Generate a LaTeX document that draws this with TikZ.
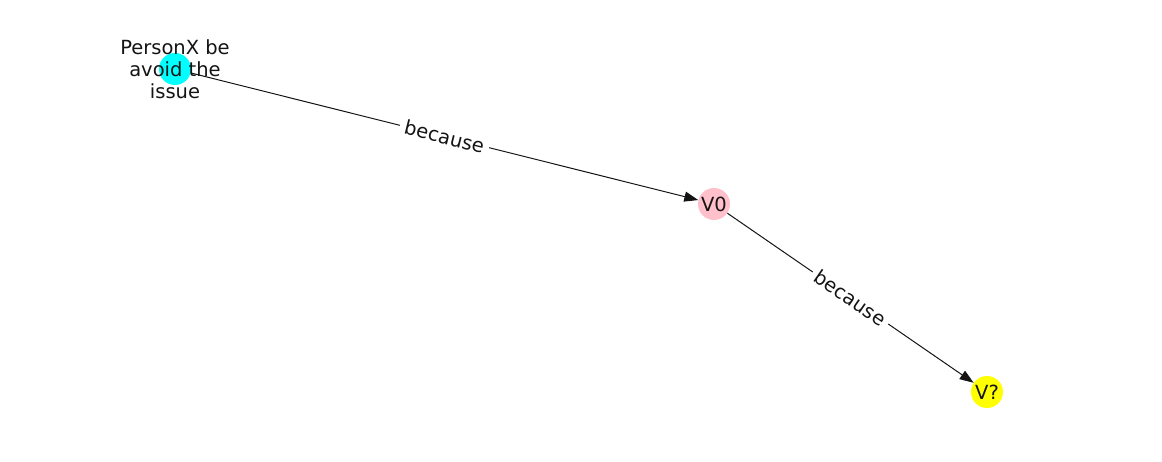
\documentclass[tikz,border=0pt]{standalone}
\usepackage{fontspec}
\setmainfont{DejaVu Sans}
\usepackage{tikz}
\usetikzlibrary{arrows.meta, positioning}
\definecolor{nodecyan}{RGB}{0,255,255}
\definecolor{nodepink}{RGB}{255,192,203}
\definecolor{nodeyellow}{RGB}{255,255,0}
\definecolor{inkgray}{RGB}{20,20,20}

\begin{document}
\begin{tikzpicture}[x=1pt, y=-1pt,
    vert/.style={circle, minimum size=32pt, inner sep=0pt, text=inkgray, font=\fontsize{19.5}{23}\selectfont},
    rel/.style={-{Triangle[length=14pt,width=10pt]}, line width=1pt, inkgray},
    rellabel/.style={fill=white, inner sep=5pt, sloped, midway, text=inkgray, font=\fontsize{19.5}{23}\selectfont}]
    \useasboundingbox (0,0) rectangle (1162,462);

    % Nodi
    \node[vert, fill=nodecyan] (ev) at (175,69) {};
    \node[vert, fill=nodepink] (v0) at (714,204) {V0};
    \node[vert, fill=nodeyellow] (vq) at (987,392) {V?};

    % Testo del primo evento
    \node[align=center, inner sep=0pt, text=inkgray, font=\fontsize{19.5}{22}\selectfont] (evtext) at (ev.center) {PersonX be\\avoid the\\issue};

    % Relazioni
    \draw[rel] (ev) -- node[rellabel] {because} (v0);
    \draw[rel] (v0) -- node[rellabel] {because} (vq);
\end{tikzpicture}
\end{document}
